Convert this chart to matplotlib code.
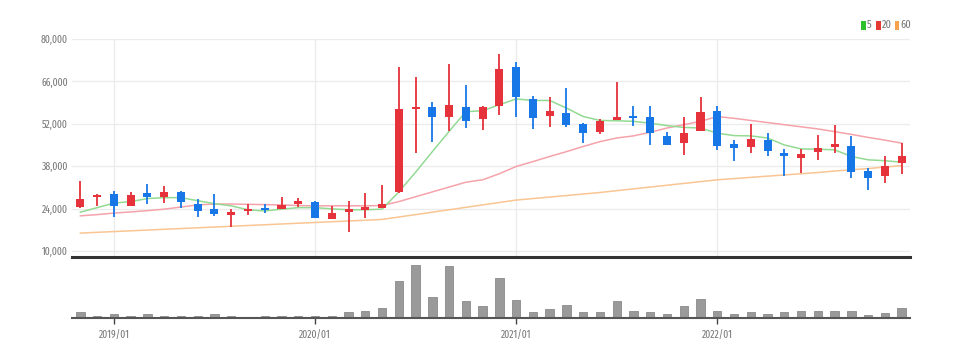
import matplotlib
matplotlib.use("Agg")
import matplotlib.pyplot as plt
from matplotlib.patches import Rectangle
import numpy as np
import pandas as pd

# ---- data (monthly candles 2018/11 .. 2022/12) ----
months = [p.strftime("%Y/%m") for p in pd.period_range("2018-11", "2022-12", freq="M")]

opens = [24400, 27700, 28700, 25000, 29100, 27800, 29400, 25600, 24000, 22000,
         23200, 24000, 23800, 25500, 26300, 20600, 23000, 23600, 24200, 29400,
         57000, 57500, 54100, 57700, 53600, 57900, 70900, 60300, 54500, 55700,
         52000, 49300, 53400, 54700, 54100, 48000, 45600, 49700, 56300, 45400,
         44200, 46700, 42300, 40600, 42600, 44200, 44500, 36500, 34600, 39200]
highs = [33200, 28700, 29800, 29400, 32000, 31500, 29900, 27200, 28900, 23800,
         25500, 25500, 27800, 27600, 26500, 25000, 26500, 29300, 31800, 70900,
         67300, 59200, 71700, 64700, 58000, 75100, 72400, 61300, 61000, 63800,
         52200, 53500, 65800, 58000, 58000, 49400, 54400, 61000, 58000, 46500,
         51900, 49100, 43600, 43600, 48400, 51700, 48000, 37300, 41500, 45600]
lows = [24100, 24900, 21300, 24900, 25400, 25800, 24300, 21300, 21600, 17800,
        21900, 22500, 23700, 24600, 20900, 20500, 16400, 21000, 24100, 29000,
        42300, 45900, 49700, 50600, 50000, 54900, 54400, 50200, 50900, 50900,
        45800, 48600, 53300, 51400, 45000, 45000, 41700, 49600, 43400, 39800,
        42300, 41400, 34800, 35700, 40100, 42500, 34200, 30200, 32600, 35500]
closes = [27100, 28500, 25000, 28400, 27800, 29500, 26300, 23200, 22200, 23000,
          23900, 23600, 25200, 26400, 21000, 22500, 23900, 24400, 25600, 57000,
          57500, 54100, 58300, 53000, 57700, 70200, 60900, 53900, 56300, 51600,
          49100, 53000, 54100, 53900, 48900, 45000, 49100, 55900, 44800, 44000,
          46900, 43100, 41500, 42000, 44000, 45300, 36200, 34000, 37900, 41200]

ma5 = [22800, 24300, 25800, 26300, 27300, 27600, 27600, 26600, 25600, 24900,
       23600, 23200, 23800, 24300, 24300, 23900, 23600, 23600, 23800, 29500,
       36000, 42800, 49500, 56000, 56300, 58300, 60200, 59700, 59700, 57200,
       54400, 53100, 53000, 52800, 52200, 51400, 50800, 50600, 48900, 48100,
       48000, 47300, 45000, 43700, 43600, 43400, 41200, 40100, 39800, 39300]
ma20 = [21600, 22000, 22500, 22900, 23300, 23800, 24500, 25200, 25500, 25500,
        25400, 25300, 25200, 25000, 24900, 24900, 24900, 24900, 25000, 26300,
        27900, 29500, 31100, 32700, 33500, 35500, 37900, 39500, 41200, 42800,
        44500, 46100, 47300, 48000, 49200, 50600, 51700, 52800, 54400, 53800,
        53100, 52400, 51700, 51000, 50300, 49400, 48500, 47500, 46600, 45600]
ma60 = [15900, 16150, 16400, 16650, 16900, 17150, 17400, 17650, 17900, 18150,
        18400, 18650, 18900, 19150, 19400, 19650, 19900, 20150, 20400, 21200,
        22000, 22800, 23600, 24400, 25200, 26000, 26800, 27300, 27800, 28300,
        28800, 29300, 29900, 30500, 31100, 31700, 32300, 32900, 33500, 33900,
        34300, 34700, 35100, 35500, 35900, 36400, 36800, 37200, 37700, 38200]

volumes = [670, 230, 400, 200, 430, 270, 200, 270, 430, 270,
           100, 200, 200, 270, 200, 200, 670, 770, 1070, 3730,
           5300, 2170, 5270, 1770, 1270, 4000, 1870, 670, 900, 1370,
           600, 670, 1730, 770, 600, 430, 1270, 1930, 730, 430,
           600, 430, 600, 770, 770, 770, 770, 370, 570, 1070]

y_ticks = [10000, 24000, 38000, 52000, 66000, 80000]
x_tick_labels = ["2019/01", "2020/01", "2021/01", "2022/01"]
legend_labels = ["5", "20", "60"]

# ---- style ----
UP = "#e5323b"
DOWN = "#1877e6"
MA_COLORS = ["#93da93", "#f5a3aa", "#f9c593"]
LEG_COLORS = ["#2cc02c", "#e53935", "#f7a24c"]
FONT = ["Fira Sans Extra Condensed", "Fira Sans Condensed", "DejaVu Sans"]
TXT = "#777777"

W, H = 956, 358
fig = plt.figure(figsize=(W / 100, H / 100), dpi=100)
fig.patch.set_facecolor("white")

def fx(px):
    return px / W

def fy(py):
    return 1 - py / H

L, R = 72, 910
ax = fig.add_axes([fx(L), fy(257), fx(R - L), (257 - 39) / H])
axv = fig.add_axes([fx(L), fy(318.3), fx(R - L), (318.3 - 262) / H], sharex=ax)

x = np.arange(len(months))

# price panel
ax.set_xlim(-0.5, len(months) - 0.5)
ax.set_ylim(8000, 80000)
for yv in y_ticks:
    ax.axhline(yv, color="#ececec", lw=1.0, zorder=0)
tick_pos = [months.index(t) for t in x_tick_labels]
for tp in tick_pos:
    ax.axvline(tp, color="#ececec", lw=1.0, zorder=0)

ax.plot(x, ma60, color=MA_COLORS[2], lw=1.1, zorder=2)
ax.plot(x, ma20, color=MA_COLORS[1], lw=1.1, zorder=2)
ax.plot(x, ma5, color=MA_COLORS[0], lw=1.1, zorder=2)

for i in range(len(months)):
    o, h, l, c = opens[i], highs[i], lows[i], closes[i]
    col = UP if c >= o else DOWN
    ax.vlines(x[i], l, h, color=col, lw=1.3, zorder=3)
    bot = min(o, c)
    hgt = max(abs(c - o), 450)
    ax.bar(x[i], hgt, bottom=bot, width=0.48, color=col, zorder=4, linewidth=0)

ax.set_yticks(y_ticks)
ax.set_yticklabels([f"{v:,}" for v in y_ticks], family=FONT, fontsize=7.5, color=TXT)
ax.tick_params(axis="y", length=0, pad=3)
ax.tick_params(axis="x", length=0, labelbottom=False)
for s in ["top", "right", "left"]:
    ax.spines[s].set_visible(False)
ax.spines["bottom"].set_color("#333333")
ax.spines["bottom"].set_linewidth(2.2)

# volume panel
axv.set_ylim(0, 5630)
axv.bar(x, volumes, width=0.5, color="#9a9a9a", edgecolor="#8a8a8a", linewidth=0.6, zorder=2)
axv.set_yticks([])
for s in ["top", "right", "left"]:
    axv.spines[s].set_visible(False)
axv.spines["bottom"].set_color("#555555")
axv.spines["bottom"].set_linewidth(1.5)
axv.set_xticks(tick_pos)
axv.set_xticklabels(x_tick_labels, family=FONT, fontsize=7.5, color=TXT)
axv.tick_params(axis="x", length=4, width=1, color="#444444", pad=5, direction="out")

# legend (top right)
leg_x = [861, 876, 894.5]
for lx, lab, colr in zip(leg_x, legend_labels, LEG_COLORS):
    fig.patches.append(Rectangle((fx(lx), fy(29.5)), fx(4.6), 8.5 / H,
                                 transform=fig.transFigure, color=colr, lw=0))
    fig.text(fx(lx + 6), fy(25), lab, family=FONT, fontsize=8, color=TXT,
             ha="left", va="center")

fig.savefig("out.png", dpi=100, facecolor="white")
